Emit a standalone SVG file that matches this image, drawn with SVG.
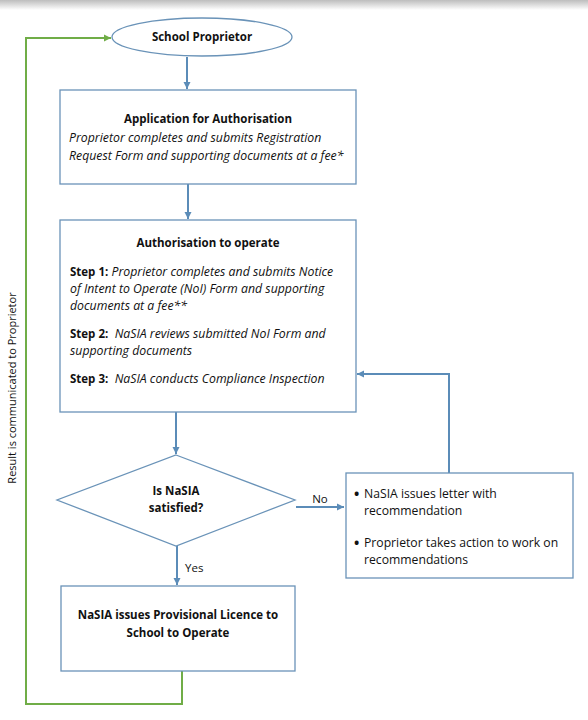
<svg xmlns="http://www.w3.org/2000/svg" width="588" height="720" viewBox="0 0 588 720">
<defs>
<linearGradient id="topshade" x1="0" y1="0" x2="0" y2="1">
<stop offset="0" stop-color="#bdbdbd"/>
<stop offset="1" stop-color="#ffffff"/>
</linearGradient>
<marker id="ab" markerWidth="8" markerHeight="8" refX="7" refY="4" orient="auto" markerUnits="userSpaceOnUse">
<path d="M0,0.5 L7,4 L0,7.5 Z" fill="#5b8cb8"/>
</marker>
<marker id="ag" markerWidth="8" markerHeight="8" refX="7" refY="4" orient="auto" markerUnits="userSpaceOnUse">
<path d="M0,0.5 L7,4 L0,7.5 Z" fill="#70ad47"/>
</marker>
</defs>
<style>
.box{fill:#ffffff;stroke:#6a93b8;stroke-width:1.3}
.conn{fill:none;stroke:#5b8cb8;stroke-width:2}
.green{fill:none;stroke:#70ad47;stroke-width:2}
text{font-family:"Open Sans","Liberation Sans",sans-serif;fill:#111;font-size:11.5px}
.b{font-weight:bold}
.i{font-style:italic;font-size:12.3px}
.c{text-anchor:middle}
.bl{font-size:12.2px}
.dot{font-size:14px;font-weight:bold}
</style>
<rect x="0" y="0" width="588" height="720" fill="#ffffff"/>
<rect x="0" y="0" width="588" height="10" fill="url(#topshade)"/>

<g id="connectors">
<line class="conn" x1="187" y1="57" x2="187" y2="89" marker-end="url(#ab)"/>
<line class="conn" x1="188" y1="184" x2="188" y2="219" marker-end="url(#ab)"/>
<line class="conn" x1="176" y1="412" x2="176" y2="454" marker-end="url(#ab)"/>
<line class="conn" x1="296" y1="507" x2="344" y2="507" marker-end="url(#ab)"/>
<polyline class="conn" points="449,473 449,374 357,374" marker-end="url(#ab)"/>
<line class="conn" x1="177" y1="546" x2="177" y2="585" marker-end="url(#ab)"/>
<polyline class="green" points="182,671 182,704 26,704 26,38 111,38" marker-end="url(#ag)"/>
<text x="320" y="503" class="c">No</text>
<text x="185" y="572">Yes</text>
<text transform="translate(16,388) rotate(-90)" class="c" style="font-size:11px">Result is communicated to Proprietor</text>
</g>

<g id="school-proprietor">
<ellipse cx="202" cy="37" rx="90" ry="19" class="box"/>
<text x="202" y="41" class="c b">School Proprietor</text>
</g>

<g id="application">
<rect x="60" y="90" width="296" height="94" class="box"/>
<text x="208" y="123" class="c b">Application for Authorisation</text>
<text x="69" y="142" class="i">Proprietor completes and submits Registration</text>
<text x="69" y="160" class="i">Request Form and supporting documents at a fee*</text>
</g>

<g id="authorisation">
<rect x="60" y="220" width="296" height="192" class="box"/>
<text x="208" y="247" class="c b">Authorisation to operate</text>
<text x="70" y="276"><tspan class="b">Step 1:</tspan><tspan class="i"> Proprietor completes and submits Notice</tspan></text>
<text x="70" y="293" class="i">of Intent to Operate (NoI) Form and supporting</text>
<text x="70" y="310" class="i">documents at a fee**</text>
<text x="70" y="338" xml:space="preserve"><tspan class="b">Step 2:</tspan><tspan class="i">  NaSIA reviews submitted NoI Form and</tspan></text>
<text x="70" y="355" class="i">supporting documents</text>
<text x="70" y="383" xml:space="preserve"><tspan class="b">Step 3:</tspan><tspan class="i">  NaSIA conducts Compliance Inspection</tspan></text>
</g>

<g id="decision">
<polygon points="176,455 295,500 176,546 57,500" class="box"/>
<text x="176" y="495" class="c b">Is NaSIA</text>
<text x="176" y="512" class="c b">satisfied?</text>
</g>

<g id="recommendation">
<rect x="346" y="473" width="227" height="105" class="box"/>
<text x="354" y="499" class="dot">•</text>
<text x="364" y="498" class="bl">NaSIA issues letter with</text>
<text x="364" y="515" class="bl">recommendation</text>
<text x="354" y="548" class="dot">•</text>
<text x="364" y="547" class="bl">Proprietor takes action to work on</text>
<text x="364" y="564" class="bl">recommendations</text>
</g>

<g id="licence">
<rect x="61" y="586" width="234" height="85" class="box"/>
<text x="178" y="619" class="c b">NaSIA issues Provisional Licence to</text>
<text x="178" y="637" class="c b">School to Operate</text>
</g>
</svg>
